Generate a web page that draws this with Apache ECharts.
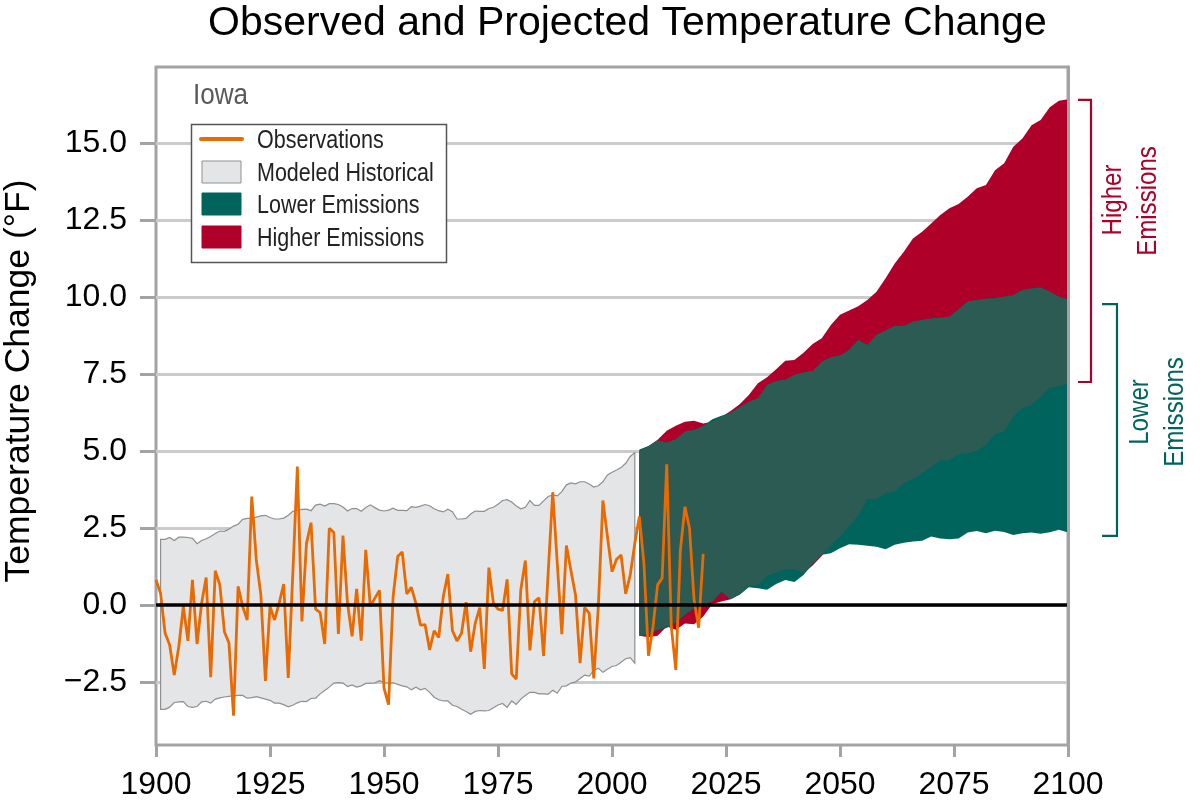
<!DOCTYPE html>
<html>
<head>
<meta charset="utf-8">
<title>Observed and Projected Temperature Change</title>
<script src="https://cdn.jsdelivr.net/npm/echarts@6/dist/echarts.min.js"></script>
<style>
  html, body { margin: 0; padding: 0; background: #fff; }
  #chart { width: 1200px; height: 810px; }
</style>
</head>
<body>
<div id="chart"></div>
<script>
// data
const yTicks = [-2.5, 0, 2.5, 5, 7.5, 10, 12.5, 15];

// observations, one value per year 1900-2020
const obsStart = 1900;
const obsValues = [
  0.81, 0.38, -0.92, -1.30, -2.28, -1.35, -0.05, -1.17, 0.81, -1.27,
  0.05, 0.89, -2.35, 1.11, 0.65, -0.87, -1.24, -3.60, 0.60, -0.05,
  -0.49, 3.52, 1.46, 0.32, -2.47, -0.05, -0.49, 0.05, 0.68, -2.37,
  1.00, 4.49, -0.54, 2.00, 2.67, -0.14, -0.25, -1.27, 2.49, 2.35,
  -0.94, 2.25, 0.05, -1.02, 0.52, -1.16, 1.79, -0.05, 0.22, 0.47,
  -2.70, -3.24, 0.27, 1.57, 1.72, 0.36, 0.57, 0.05, -0.66, -0.64,
  -1.46, -0.84, -1.06, 0.27, 1.00, -0.83, -1.17, -0.92, 0.09, -1.52,
  -0.60, -0.09, -2.08, 1.21, 0.05, -0.14, -0.18, 0.83, -2.24, -2.41,
  0.49, 1.44, -1.48, 0.11, 0.23, -1.66, 1.03, 3.66, 1.35, -0.95,
  1.93, 1.11, 0.32, -1.89, -0.09, -0.27, -2.39, -0.05, 3.39, 2.22,
  1.08, 1.48, 1.62, 0.36, 0.97, 2.00, 2.87, 1.35, -1.65, -0.70,
  0.65, 0.87, 4.57, -0.70, -2.11, 1.79, 3.19, 2.49, 0.16, -0.74,
  1.66
];

// modeled historical band, one value per year 1901-2005
const histStart = 1901;
const histHigh = [
  2.13, 2.13, 2.19, 2.09, 2.20, 2.20, 2.19, 2.16, 1.99, 2.09,
  2.15, 2.22, 2.32, 2.40, 2.39, 2.46, 2.56, 2.62, 2.78, 2.81,
  2.81, 2.85, 2.89, 2.91, 2.84, 2.79, 2.79, 2.82, 2.91, 3.04,
  3.08, 3.10, 3.11, 3.06, 3.24, 3.27, 3.21, 3.29, 3.29, 3.26,
  3.18, 3.05, 3.13, 3.13, 3.04, 3.16, 3.25, 3.16, 3.08, 3.05,
  3.08, 3.14, 3.07, 3.07, 3.06, 3.19, 3.17, 3.21, 3.26, 3.22,
  3.12, 3.06, 3.02, 3.11, 3.03, 2.79, 2.79, 2.81, 2.95, 3.05,
  3.04, 3.04, 3.13, 3.17, 3.27, 3.39, 3.42, 3.34, 3.21, 3.12,
  3.17, 3.39, 3.23, 3.23, 3.38, 3.52, 3.57, 3.54, 3.68, 3.90,
  3.96, 3.93, 4.00, 4.00, 3.93, 3.83, 3.87, 4.00, 4.22, 4.31,
  4.38, 4.46, 4.60, 4.82, 4.95
];
const histLow = [
  -3.39, -3.39, -3.32, -3.17, -3.15, -3.14, -3.30, -3.33, -3.30, -3.15,
  -3.13, -3.19, -3.06, -3.02, -2.99, -2.97, -2.95, -2.94, -2.94, -3.03,
  -3.01, -2.98, -3.02, -3.06, -3.10, -3.19, -3.19, -3.24, -3.31, -3.26,
  -3.18, -3.13, -3.14, -3.04, -3.03, -2.89, -2.78, -2.67, -2.54, -2.52,
  -2.54, -2.65, -2.60, -2.67, -2.63, -2.55, -2.54, -2.53, -2.46, -2.52,
  -2.54, -2.53, -2.58, -2.63, -2.66, -2.76, -2.67, -2.76, -2.71, -2.84,
  -3.00, -3.08, -3.12, -3.12, -3.26, -3.30, -3.39, -3.46, -3.55, -3.46,
  -3.43, -3.44, -3.43, -3.34, -3.25, -3.20, -3.33, -3.12, -3.23, -3.06,
  -2.94, -2.84, -2.84, -2.89, -2.89, -2.90, -2.77, -2.87, -2.65, -2.63,
  -2.54, -2.50, -2.39, -2.28, -2.31, -2.13, -2.06, -2.19, -2.09, -2.00,
  -1.97, -1.86, -1.75, -1.71, -1.89
];

// projected bands, one value every two years 2006-2100
const projStart = 2006;
const higherHigh = [
  5.00, 5.15, 5.36, 5.66, 5.82, 5.95, 5.98, 5.89, 5.95, 6.10,
  6.30, 6.52, 6.82, 7.20, 7.39, 7.65, 7.93, 7.95, 8.19, 8.47,
  8.66, 9.09, 9.42, 9.56, 9.70, 9.90, 10.17, 10.61, 11.09, 11.47,
  11.90, 12.12, 12.39, 12.66, 12.88, 13.02, 13.26, 13.53, 13.64, 14.12,
  14.34, 14.88, 15.15, 15.58, 15.75, 16.16, 16.37, 16.42
];
const higherLow = [
  -1.00, -1.05, -1.00, -0.70, -0.81, -0.60, -0.63, -0.38, 0.03, 0.11,
  0.18, 0.36, 0.62, 0.65, 0.94, 1.05, 1.16, 1.17, 1.03, 1.28,
  1.59, 1.95, 2.22, 2.56, 2.90, 3.44, 3.43, 3.63, 3.68, 3.95,
  4.09, 4.27, 4.49, 4.69, 4.71, 4.90, 4.92, 5.01, 5.19, 5.55,
  5.63, 6.11, 6.39, 6.49, 6.76, 7.07, 7.09, 7.22
];
const lowerHigh = [
  5.05, 5.16, 5.34, 5.27, 5.38, 5.63, 5.68, 5.81, 6.03, 6.14,
  6.24, 6.42, 6.60, 6.71, 7.14, 7.27, 7.31, 7.47, 7.55, 7.60,
  7.90, 8.04, 8.10, 8.28, 8.60, 8.44, 8.77, 8.91, 9.07, 9.06,
  9.20, 9.25, 9.30, 9.33, 9.36, 9.60, 9.85, 9.90, 9.94, 9.96,
  10.01, 10.06, 10.23, 10.28, 10.31, 10.17, 10.01, 9.92
];
const lowerLow = [
  -1.00, -0.95, -0.81, -0.75, -0.57, -0.32, -0.10, 0.02, 0.11, 0.43,
  0.18, 0.33, 0.57, 0.54, 0.49, 0.68, 0.81, 0.74, 0.97, 1.33,
  1.63, 1.68, 1.84, 1.97, 1.95, 1.92, 1.89, 1.81, 1.95, 2.02,
  2.06, 2.08, 2.22, 2.16, 2.13, 2.16, 2.35, 2.40, 2.33, 2.41,
  2.37, 2.27, 2.33, 2.35, 2.31, 2.36, 2.44, 2.35
];

// range brackets to the right of the plot
const higherRange = [7.24, 16.4];
const lowerRange = [2.24, 9.77];

const RED = '#ae0029';
const GREEN = '#00645c';
const OVERLAP = '#2b5b53';
const FRAME = '#a3a3a3';
const ORANGE = '#e86a00';
const HIST_FILL = '#e4e5e7';
const HIST_LINE = '#8e8f91';
const SANS = '"Liberation Sans", Arial, sans-serif';

const obsData = obsValues.map((v, i) => [obsStart + i, v]);
const histYears = histHigh.map((v, i) => histStart + i);
const projYears = higherHigh.map((v, i) => projStart + i * 2);
const overlapLow = projYears.map((y, i) => Math.max(higherLow[i], lowerLow[i]));
const overlapHigh = projYears.map((y, i) => Math.min(higherHigh[i], lowerHigh[i]));

// one closed polygon for a whole band, through the axis scales
function bandSeries (name, years, lows, highs, fill, stroke, z) {
  return {
    type: 'custom',
    name,
    z,
    silent: true,
    encode: { x: 0, y: [1, 2] },
    data: years.map((y, i) => [y, lows[i], highs[i]]),
    renderItem (params, api) {
      if (params.dataIndex !== 0) return null
      const top = years.map((y, i) => api.coord([y, highs[i]]))
      const bottom = years.map((y, i) => api.coord([y, lows[i]])).reverse()
      return {
        type: 'polygon',
        shape: { points: top.concat(bottom) },
        style: { fill, stroke: stroke || null, lineWidth: stroke ? 1.2 : 0 }
      }
    }
  }
}

// bracket beside the right frame, offsets in pixels from the 2100 line
function bracketSeries (name, range, color, xFrom, xTo) {
  return {
    type: 'custom',
    name,
    z: 6,
    silent: true,
    clip: false,
    encode: { x: 0, y: [1, 2] },
    data: [[2100, range[0], range[1]]],
    renderItem (params, api) {
      const lo = api.coord([2100, range[0]])
      const hi = api.coord([2100, range[1]])
      return {
        type: 'polyline',
        shape: { points: [
          [lo[0] + xFrom, hi[1]], [lo[0] + xTo, hi[1]],
          [lo[0] + xTo, lo[1]], [lo[0] + xFrom, lo[1]]
        ] },
        style: { fill: null, stroke: color, lineWidth: 2.2 }
      }
    }
  }
}

// condensed text: no narrow face is installed, so squeeze the regular one
function narrowText (text, x, y, size, color, scale, rotated, align) {
  return {
    type: 'text',
    x,
    y,
    z: 20,
    scaleX: scale,
    rotation: rotated ? Math.PI / 2 : 0,
    style: { text, fill: color, font: size + 'px ' + SANS, textAlign: align, textVerticalAlign: 'middle' }
  }
}

function swatch (y, fill, stroke) {
  return {
    type: 'rect',
    z: 20,
    shape: { x: 202, y: y - 11, width: 39, height: 22 },
    style: { fill, stroke: stroke || fill, lineWidth: 1 }
  }
}

const legendRows = [139, 172, 204, 237];
const legendNames = ['Observations', 'Modeled Historical', 'Lower Emissions', 'Higher Emissions'];

const myChart = echarts.init(document.getElementById('chart'))
myChart.setOption({
  animation: false,
  backgroundColor: '#fff',
  title: {
    text: 'Observed and Projected Temperature Change',
    left: 208,
    top: 3,
    padding: 0,
    textStyle: { fontFamily: SANS, fontWeight: 'normal', fontSize: 41, color: '#000' }
  },
  grid: {
    left: 156,
    right: 132,
    top: 67,
    bottom: 65,
    show: true,
    borderColor: FRAME,
    borderWidth: 3,
    backgroundColor: '#fff'
  },
  xAxis: {
    type: 'value',
    min: 1900,
    max: 2100,
    interval: 25,
    axisLine: { show: false, onZero: false },
    axisTick: { show: true, length: 12, lineStyle: { color: FRAME, width: 3 } },
    axisLabel: { fontFamily: SANS, fontSize: 32, color: '#000', margin: 24, formatter: v => String(v) },
    splitLine: { show: false }
  },
  yAxis: [
    {
      type: 'value',
      min: -4.55,
      max: 17.47,
      axisLine: { show: false },
      axisTick: { show: true, length: 16, customValues: yTicks, lineStyle: { color: FRAME, width: 3 } },
      axisLabel: {
        fontFamily: SANS,
        fontSize: 32,
        color: '#000',
        margin: 29,
        padding: [3, 0, 0, 0],
        customValues: yTicks,
        formatter: v => (v < 0 ? '\u2212' : '') + Math.abs(v).toFixed(1)
      },
      splitLine: { show: true, lineStyle: { color: '#cbcbcb', width: 3 } }
    },
    {
      // right frame drawn over the bands
      type: 'value',
      position: 'right',
      min: -4.55,
      max: 17.47,
      z: 10,
      axisLine: { show: true, onZero: false, lineStyle: { color: FRAME, width: 3 } },
      axisTick: { show: false },
      axisLabel: { show: false },
      splitLine: { show: false }
    }
  ],
  graphic: [
    narrowText('Iowa', 193, 96, 30, '#58595b', 0.87, false, 'left'),
    {
      type: 'text',
      x: 19,
      y: 381,
      rotation: Math.PI / 2,
      style: { text: 'Temperature Change (°F)', fill: '#000', font: '35.5px ' + SANS, textAlign: 'center', textVerticalAlign: 'middle' }
    },
    narrowText('Higher', 1113, 200, 28, RED, 0.86, true, 'center'),
    narrowText('Emissions', 1148, 201, 28, RED, 0.86, true, 'center'),
    narrowText('Lower', 1140, 412, 28, GREEN, 0.86, true, 'center'),
    narrowText('Emissions', 1175, 412, 28, GREEN, 0.86, true, 'center'),
    // legend box
    {
      type: 'rect',
      z: 19,
      shape: { x: 191.5, y: 124.5, width: 255, height: 138 },
      style: { fill: '#fff', stroke: '#555', lineWidth: 1.5 }
    },
    {
      type: 'line',
      z: 20,
      shape: { x1: 201, y1: 139, x2: 242, y2: 139 },
      style: { stroke: ORANGE, lineWidth: 4, lineCap: 'round' }
    },
    swatch(legendRows[1], HIST_FILL, HIST_LINE),
    swatch(legendRows[2], GREEN),
    swatch(legendRows[3], RED),
    ...legendNames.map((n, i) => narrowText(n, 257, legendRows[i] + 2, 25, '#222', 0.86, false, 'left'))
  ],
  series: [
    bandSeries('Higher Emissions', projYears, higherLow, higherHigh, RED, null, 2),
    bandSeries('Lower Emissions', projYears, lowerLow, lowerHigh, GREEN, null, 3),
    bandSeries('Overlap', projYears, overlapLow, overlapHigh, OVERLAP, null, 4),
    bandSeries('Modeled Historical', histYears, histLow, histHigh, HIST_FILL, HIST_LINE, 5),
    {
      type: 'line',
      name: 'Observations',
      z: 6,
      silent: true,
      symbol: 'none',
      lineStyle: { color: ORANGE, width: 2.8 },
      data: obsData
    },
    {
      type: 'line',
      name: 'Zero',
      z: 7,
      silent: true,
      symbol: 'none',
      lineStyle: { color: '#000', width: 3.5 },
      data: [[1900, 0], [2100, 0]]
    },
    bracketSeries('Higher range', higherRange, RED, 10, 23),
    bracketSeries('Lower range', lowerRange, GREEN, 34, 49)
  ]
})
</script>
</body>
</html>
